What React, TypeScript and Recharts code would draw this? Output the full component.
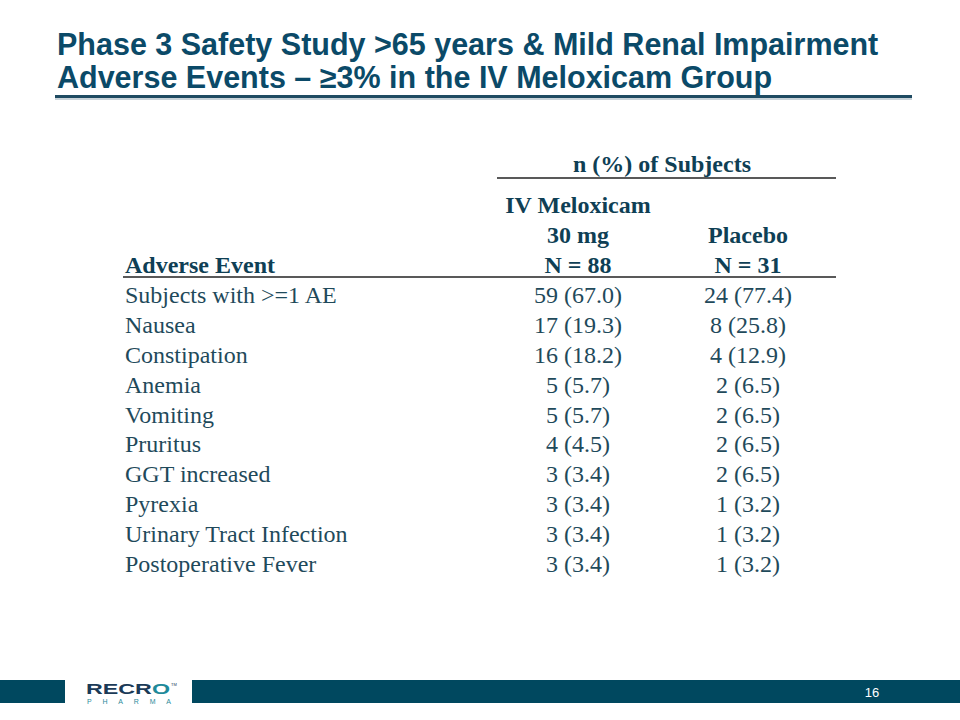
import { ScatterChart, Scatter, XAxis, YAxis } from 'recharts'

// table rows
const events = [
  'Subjects with >=1 AE',
  'Nausea',
  'Constipation',
  'Anemia',
  'Vomiting',
  'Pruritus',
  'GGT increased',
  'Pyrexia',
  'Urinary Tract Infection',
  'Postoperative Fever',
]
const meloxicamN = [59, 17, 16, 5, 5, 4, 3, 3, 3, 3]
const meloxicamPct = [67.0, 19.3, 18.2, 5.7, 5.7, 4.5, 3.4, 3.4, 3.4, 3.4]
const placeboN = [24, 8, 4, 2, 2, 2, 2, 1, 1, 1]
const placeboPct = [77.4, 25.8, 12.9, 6.5, 6.5, 6.5, 6.5, 3.2, 3.2, 3.2]

const groups = ['IV Meloxicam 30 mg', 'Placebo']
const groupHeaders = [['IV Meloxicam', '30 mg'], ['Placebo']]
const groupTotals = [88, 31]

const titleLines = [
  'Phase 3 Safety Study >65 years & Mild Renal Impairment',
  'Adverse Events – ≥3% in the IV Meloxicam Group',
]
const pageNumber = '16'

const NAVY = '#0b4a68'
const BODY = '#1f4a5b'
const HEAD = '#0f3f55'
const RULE = '#222'
const SERIF = "'Liberation Serif', 'Times New Roman', serif"
const SANS = "'Liberation Sans', Arial, sans-serif"
const LABEL_X = 125

const cells = (group: string, ns: number[], pcts: number[]) =>
  events.map((event, i) => ({ event, group, label: `${ns[i]} (${pcts[i].toFixed(1)})` }))

const meloxicamCells = cells(groups[0], meloxicamN, meloxicamPct)
const placeboCells = cells(groups[1], placeboN, placeboPct)

function GroupTick({ x, y, payload }: any) {
  const idx = groups.indexOf(payload.value)
  const lines = [...groupHeaders[idx], `N = ${groupTotals[idx]}`]
  return (
    <g>
      {lines.map((t, k) => (
        <text key={k} x={x} y={y + 1 - (lines.length - 1 - k) * 30} textAnchor="middle"
          fontFamily={SERIF} fontSize={24} fontWeight="bold" fill={HEAD}>{t}</text>
      ))}
    </g>
  )
}

function EventTick({ y, payload }: any) {
  return (
    <text x={LABEL_X} y={y} dy="0.35em" textAnchor="start" fontFamily={SERIF} fontSize={24} fill={BODY}>
      {payload.value}
    </text>
  )
}

function CellText(p: any) {
  return (
    <text x={p.cx} y={p.cy} dy="0.35em" textAnchor="middle" fontFamily={SERIF} fontSize={24} fill={BODY}>
      {p.payload.label}
    </text>
  )
}

function Decor() {
  return (
    <svg width={960} height={720} style={{ position: 'absolute', left: 0, top: 0, pointerEvents: 'none' }}>
      {titleLines.map((t, i) => (
        <text key={i} x={57} y={55 + i * 33} fontFamily={SANS} fontSize={30.5} fontWeight="bold" fill={NAVY}>{t}</text>
      ))}
      <rect x={55} y={98} width={857} height={2} fill="#c9d3d9" />
      <rect x={55} y={95} width={857} height={3} fill="#1f4b62" />

      <text x={662} y={172} textAnchor="middle" fontFamily={SERIF} fontSize={24} fontWeight="bold" fill={HEAD}>
        n (%) of Subjects
      </text>
      <line x1={497} x2={836} y1={178} y2={178} stroke={RULE} strokeWidth={1.5} />
      <text x={LABEL_X} y={273} fontFamily={SERIF} fontSize={24} fontWeight="bold" fill={HEAD}>Adverse Event</text>
      <line x1={123} x2={836} y1={277} y2={277} stroke={RULE} strokeWidth={1.5} />

      <rect x={0} y={680} width={65} height={23} fill="#00485f" />
      <rect x={192} y={680} width={768} height={23} fill="#00485f" />
      <text x={86} y={694} fontFamily={SANS} fontSize={15} fontWeight="bold" fill="#1b3a57"
        textLength={84} lengthAdjust="spacingAndGlyphs">
        RECR<tspan fill="#1e8a9a">O</tspan>
      </text>
      <text x={171} y={686} fontFamily={SANS} fontSize={4} fill="#1b3a57">TM</text>
      <text x={87} y={704} fontFamily={SANS} fontSize={7} fill="#2a8a9a" textLength={84} lengthAdjust="spacing">PHARMA</text>
      <text x={872} y={697} textAnchor="middle" fontFamily={SANS} fontSize={13} fill="#fff">{pageNumber}</text>
    </svg>
  )
}

export default function App() {
  return (
    <div style={{ position: 'absolute', left: 0, top: 0, width: 960, height: 720, background: '#fff' }}>
      <ScatterChart width={960} height={720} margin={{ top: 250, right: 127, bottom: 142, left: 125 }}>
        <XAxis type="category" dataKey="group" orientation="top" allowDuplicatedCategory={false}
          axisLine={false} tickLine={false} tick={<GroupTick />} height={30} />
        <YAxis type="category" dataKey="event" allowDuplicatedCategory={false} reversed
          axisLine={false} tickLine={false} tick={<EventTick />} width={368} />
        <Scatter data={meloxicamCells} shape={<CellText />} isAnimationActive={false} />
        <Scatter data={placeboCells} shape={<CellText />} isAnimationActive={false} />
      </ScatterChart>
      <Decor />
    </div>
  )
}
